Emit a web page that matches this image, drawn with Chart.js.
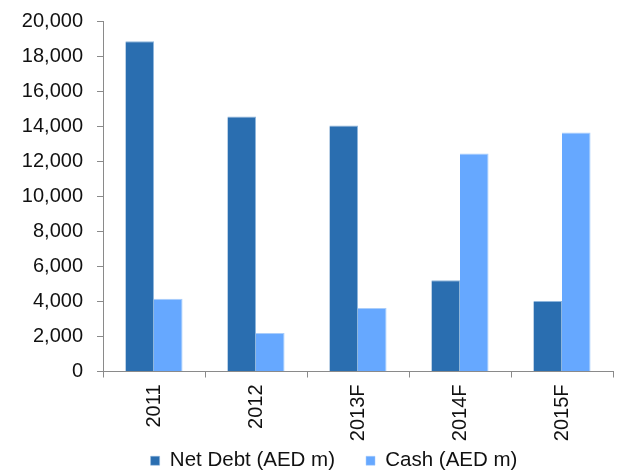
<!DOCTYPE html>
<html>
<head>
<meta charset="utf-8">
<script src="https://cdn.jsdelivr.net/npm/chart.js@4"></script>
<style>
  html, body { margin: 0; padding: 0; background: #fff; }
  #wrap { width: 644px; height: 470px; }
</style>
</head>
<body>
<div id="wrap"><canvas id="myChart"></canvas></div>
<script>
// values (AED m)
const years = ['2011', '2012', '2013F', '2014F', '2015F'];
const netDebt = [18850, 14550, 14040, 5200, 4020];
const cash = [4150, 2200, 3620, 12440, 13640];
const yTicks = [0, 2000, 4000, 6000, 8000, 10000, 12000, 14000, 16000, 18000, 20000];

Chart.defaults.font.family = '"Liberation Sans", Arial, sans-serif';
Chart.defaults.font.size = 20;
Chart.defaults.color = '#111';

const axisGrey = '#8a8a8a';

const config = {
    type: 'bar',
    data: {
        labels: years,
        datasets: [{
            label: 'Net Debt (AED m)',
            data: netDebt,
            backgroundColor: '#2a6eb0',
            borderColor: '#8fb6dc',
            borderWidth: {top: 1, right: 1, left: 0, bottom: 0},
            borderSkipped: 'bottom'
        }, {
            label: 'Cash (AED m)',
            data: cash,
            backgroundColor: '#66a8ff',
            borderColor: '#a9cdfb',
            borderWidth: {top: 1, right: 1, left: 0, bottom: 0},
            borderSkipped: 'bottom'
        }]
    },
    options: {
        responsive: true,
        maintainAspectRatio: false,
        animation: false,
        // left padding is wide so the legend centres a bit right of the middle
        layout: {padding: {top: 0, right: 31, left: 55, bottom: -11}},
        datasets: {bar: {categoryPercentage: 0.56, barPercentage: 1}},
        scales: {
            x: {
                grid: {display: true, drawOnChartArea: false, offset: true, color: axisGrey, tickLength: 6},
                border: {color: axisGrey, width: 1},
                ticks: {minRotation: 90, maxRotation: 90, padding: 7, color: '#111'},
                // let the rotated labels run down into the legend's top padding
                afterFit: (scale) => {
                    scale.height = 48;
                    scale._computeLabelArea = () => undefined;
                }
            },
            y: {
                min: 0,
                max: 20000,
                afterBuildTicks: (scale) => { scale.ticks = yTicks.map(v => ({value: v})); },
                afterFit: (scale) => {
                    scale.paddingTop = 21;
                    scale.width = 48;
                    scale._computeLabelArea = () => undefined;
                },
                grid: {display: true, drawOnChartArea: false, color: axisGrey, tickLength: 6},
                border: {color: axisGrey, width: 1},
                ticks: {
                    padding: 14,
                    color: '#111',
                    callback: (v) => v.toLocaleString('en-US')
                }
            }
        },
        plugins: {
            tooltip: {enabled: false},
            legend: {
                position: 'bottom',
                labels: {boxWidth: 9, boxHeight: 9, padding: 31, color: '#111', font: {size: 20.5}}
            }
        }
    }
};

const myChart = new Chart(document.getElementById('myChart'), config);
</script>
</body>
</html>
